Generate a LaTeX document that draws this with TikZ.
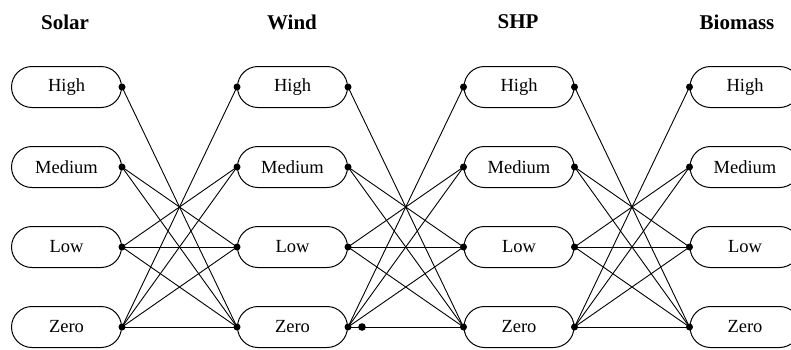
\documentclass[tikz,border=0pt]{standalone}
\usepackage{fontspec}
\setmainfont{Liberation Serif}
\begin{document}
\begin{tikzpicture}[x=1pt,y=1pt,
  state/.style={draw,line width=1pt,rounded corners=20.5pt,minimum width=110pt,minimum height=41pt,inner sep=0pt,font=\fontsize{18.5}{20}\selectfont},
  title/.style={font=\fontsize{21}{23}\selectfont\bfseries},
  link/.style={line width=0.9pt},
  dot/.style={fill=black}]
\useasboundingbox (0,0) rectangle (791,-349);
\clip (0,0) rectangle (791,-349);
% titles
\node[title] (ts) at (65,-22) {Solar};
\node[title] (tw) at (292,-22) {Wind};
\node[title] (th) at (518,-22) {SHP};
\node[title] (tb) at (737,-22) {Biomass};
% nodes
\foreach \c/\x in {s/66.5,w/292.5,h/519,b/745}{
  \node[state] (\c1) at (\x,-87) {High};
  \node[state] (\c2) at (\x,-167) {Medium};
  \node[state] (\c3) at (\x,-247) {Low};
  \node[state] (\c4) at (\x,-327) {Zero};
}
% connectors
\foreach \a/\b in {s/w,w/h,h/b}{
  \foreach \i/\j in {1/4,2/3,2/4,3/2,3/3,3/4,4/1,4/2,4/3,4/4}{
    \draw[link] (\a\i.east) -- (\b\j.west);
  }
  \foreach \i in {1,2,3,4}{
    \fill[dot] (\a\i.east) circle (3.5pt);
    \fill[dot] (\b\i.west) circle (3.5pt);
  }
}
\coordinate (extra) at ([xshift=14pt]w4.east);
\fill[dot] (extra) circle (3.8pt);
\end{tikzpicture}
\end{document}
